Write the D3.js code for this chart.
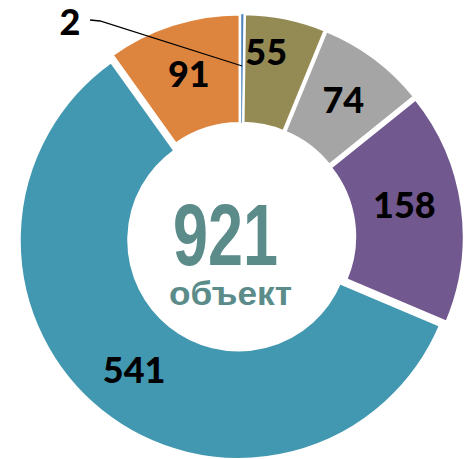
<!DOCTYPE html>
<html>
<head>
<meta charset="utf-8">
<script src="https://cdn.jsdelivr.net/npm/d3@7"></script>
<style>
    body { margin: 0; background: #fff; }
    svg { display: block; }
</style>
</head>
<body>
<div id="chart"></div>
<script>
// data, clockwise from 12 o'clock
var categories = ["a", "b", "c", "d", "e", "f"];
var values = [2, 55, 74, 158, 541, 91];
var colors = ["#4f81bd", "#948a54", "#a5a5a5", "#71588f", "#4298b0", "#dd843f"];
var totalLabel = "921";
var unitLabel = "объект";

var width = 465;
var height = 459;
var cx = 241;
var cy = 237;
var outerR = 219;
var innerR = 110;
var explode = 4;

var svg = d3.select("#chart").append("svg")
    .attr("width", width)
    .attr("height", height);

var pie = d3.pie()
    .sort(null)
    .value(function(d) { return d.value; });

var data = categories.map(function(c, i) {
    return { key: c, value: values[i], color: colors[i] };
});

var arcs = pie(data);

var arc = d3.arc()
    .innerRadius(innerR)
    .outerRadius(outerR);

var labelArc = d3.arc()
    .innerRadius(167)
    .outerRadius(167);

function shift(d)
{
    var a = (d.startAngle + d.endAngle) / 2;
    return [Math.sin(a) * explode, -Math.cos(a) * explode];
}

var g = svg.append("g")
    .attr("transform", "translate(" + cx + "," + cy + ")");

var slice = g.selectAll(".slice")
    .data(arcs)
    .enter().append("g")
    .attr("class", "slice")
    .attr("transform", function(d) {
        var s = shift(d);
        return "translate(" + s[0] + "," + s[1] + ")";
    });

slice.append("path")
    .attr("d", arc)
    .style("fill", function(d) { return d.data.color; })
    .style("stroke", "#fff")
    .style("stroke-width", function(d) { return d.data.value > 10 ? 2.5 : 0.4; });

var labelFont = "Lato, 'Open Sans', sans-serif";

// labels inside the ring (all except the tiny one)
slice.filter(function(d) { return d.data.value > 10; })
    .append("text")
    .attr("transform", function(d) {
        var c = labelArc.centroid(d);
        if (d.data.value == 55) { c = [c[0] - 9, c[1] - 17]; }
        if (d.data.value == 158) { c = [c[0] - 6, c[1] - 8]; }
        return "translate(" + c[0] + "," + c[1] + ")";
    })
    .attr("text-anchor", "middle")
    .attr("dy", "0.36em")
    .style("font-family", labelFont)
    .style("font-weight", 900)
    .style("font-size", "36px")
    .style("fill", "#000")
    .text(function(d) { return d.data.value; });

// the tiny slice gets an outside label with a leader line
var tiny = arcs[0];
var ts = shift(tiny);
var tc = d3.arc().innerRadius(167).outerRadius(167).centroid(tiny);
var tipX = tc[0] + ts[0];
var tipY = tc[1] + ts[1];
var lblX = -171;
var lblY = -215;

g.append("polyline")
    .attr("points", [[lblX + 20, lblY - 2], [lblX + 30, lblY - 1], [tipX, tipY]].map(function(p) { return p.join(","); }).join(" "))
    .style("fill", "none")
    .style("stroke", "#000")
    .style("stroke-width", 1.3);

g.append("text")
    .attr("x", lblX)
    .attr("y", lblY)
    .attr("text-anchor", "middle")
    .attr("dy", "0.36em")
    .style("font-family", labelFont)
    .style("font-weight", 900)
    .style("font-size", "36px")
    .text(tiny.data.value);

// centre text
g.append("text")
    .attr("x", -68)
    .attr("y", 28)
    .attr("textLength", 105)
    .attr("lengthAdjust", "spacingAndGlyphs")
    .style("font-family", "'Liberation Sans', Arial, sans-serif")
    .style("font-weight", "bold")
    .style("font-size", "88px")
    .style("fill", "#5b8c8a")
    .text(totalLabel);

g.append("text")
    .attr("x", -72)
    .attr("y", 68)
    .attr("textLength", 123)
    .attr("lengthAdjust", "spacingAndGlyphs")
    .style("font-family", "'Liberation Sans', Arial, sans-serif")
    .style("font-weight", "bold")
    .style("font-size", "33px")
    .style("fill", "#5b8c8a")
    .text(unitLabel);
</script>
</body>
</html>
